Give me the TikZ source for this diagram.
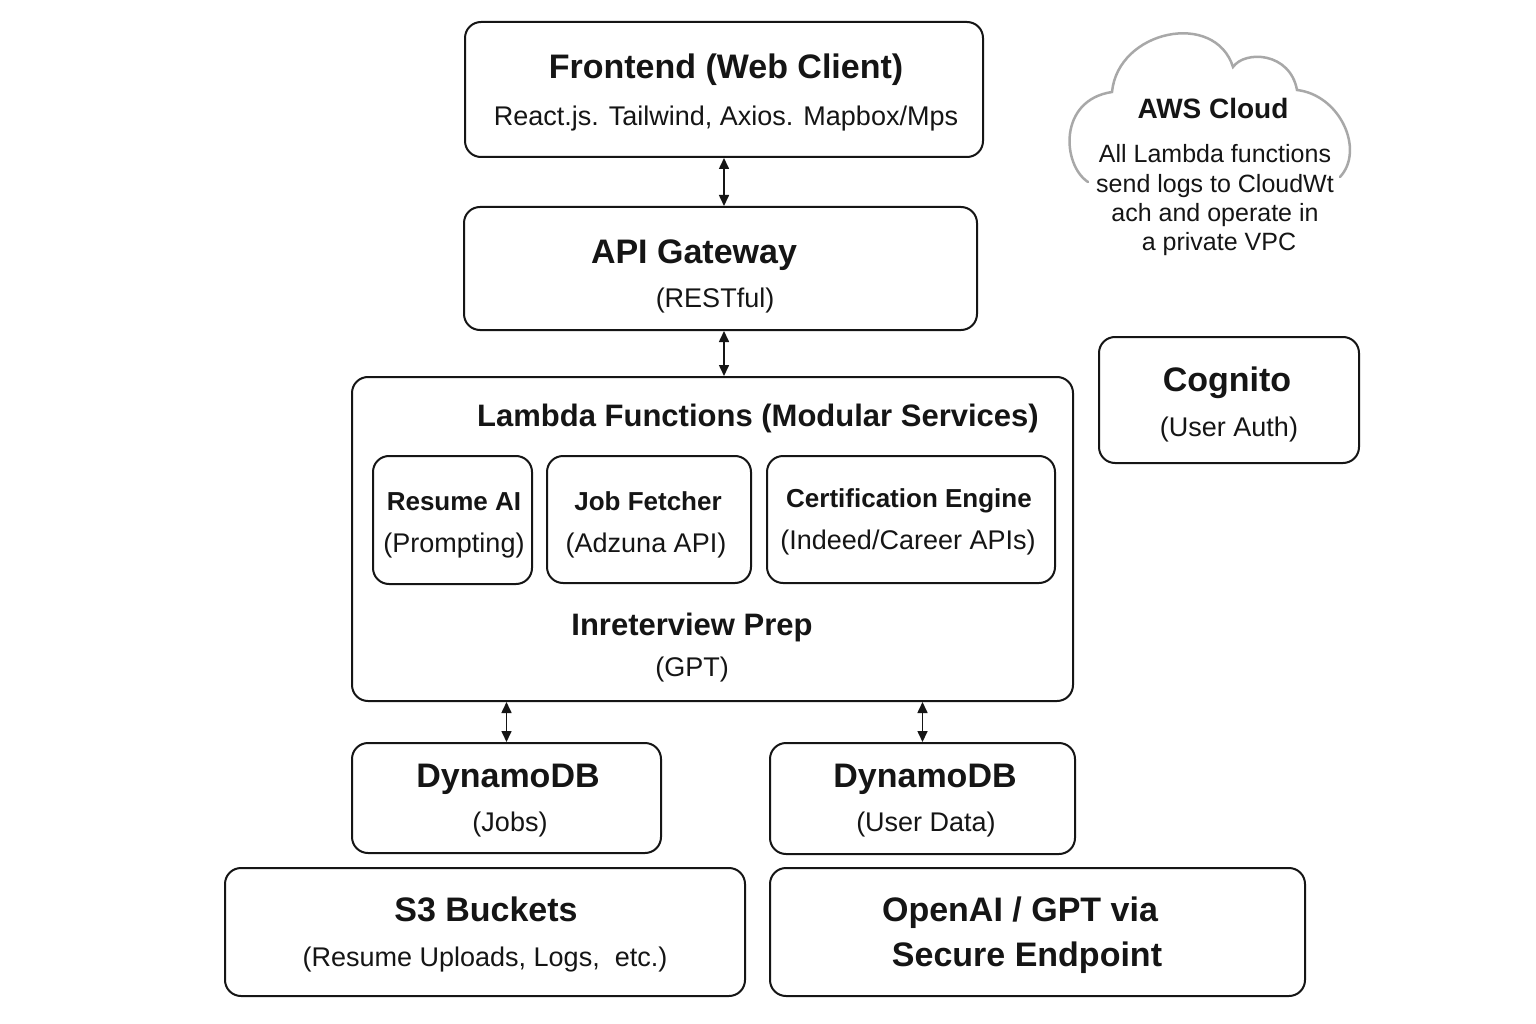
\documentclass[tikz,border=0pt]{standalone}
\usepackage{fontspec}
\setmainfont{Liberation Sans}
\usetikzlibrary{arrows.meta}
\definecolor{ink}{HTML}{151515}
\definecolor{cloudgray}{HTML}{A8A8A8}
\begin{document}
\begin{tikzpicture}[x=1pt,y=-1pt,
  box/.style={draw=ink, line width=2pt, rounded corners=16pt, inner sep=0pt},
  txt/.style={text=ink, inner sep=0pt, text height=0.75em, text depth=0.2em, yshift=-8.5pt},
  ttl/.style={txt, font=\bfseries\fontsize{34}{37}\selectfont},
  subt/.style={txt, font=\fontsize{27}{30}\selectfont},
  ittl/.style={txt, font=\bfseries\fontsize{26}{30}\selectfont},
  mttl/.style={txt, font=\bfseries\fontsize{31}{34}\selectfont},
  ctxt/.style={txt, font=\fontsize{25}{28}\selectfont},
  ctitle/.style={txt, font=\bfseries\fontsize{28}{30}\selectfont},
  arr/.style={{Triangle[length=11pt,width=10pt]}-{Triangle[length=11pt,width=10pt]}, line width=1.6pt, draw=ink}
]
\fill[white] (0,0) rectangle (1536,1024);
\useasboundingbox (0,0) rectangle (1536,1024);

% main boxes
\node[box, minimum width=518pt, minimum height=135pt] (fe) at (724,89.5) {};
\node[box, minimum width=513pt, minimum height=123pt] (api) at (720.5,268.5) {};
\node[box, minimum width=721pt, minimum height=324pt] (lam) at (712.5,539) {};
\node[box, minimum width=159pt, minimum height=128pt] (ra) at (452.5,520) {};
\node[box, minimum width=204pt, minimum height=127pt] (jf) at (649,519.5) {};
\node[box, minimum width=288pt, minimum height=127pt] (ce) at (911,519.5) {};
\node[box, minimum width=260pt, minimum height=126pt] (cog) at (1229,400) {};
\node[box, minimum width=309pt, minimum height=110pt] (d1) at (506.5,798) {};
\node[box, minimum width=305pt, minimum height=111pt] (d2) at (922.5,798.5) {};
\node[box, minimum width=520pt, minimum height=128pt] (s3) at (485,932) {};
\node[box, minimum width=535pt, minimum height=128pt] (oa) at (1037.5,932) {};

% texts
\node[ttl] (fet) at (726,67) {Frontend (Web Client)};
\node[subt] (fes) at (726,114) {React.js. Tailwind, Axios. Mapbox/Mps};
\node[ttl] (apit) at (694,252) {API Gateway};
\node[subt] (apis) at (715,296) {(RESTful)};
\node[mttl] (lamt) at (758,415) {Lambda Functions (Modular Services)};
\node[ittl] (rat) at (454,499) {Resume AI};
\node[subt] (ras) at (454,541) {(Prompting)};
\node[ittl] (jft) at (648,499) {Job Fetcher};
\node[subt] (jfs) at (646,541) {(Adzuna API)};
\node[ittl] (cet) at (909,496) {Certification Engine};
\node[subt] (ces) at (908,538) {(Indeed/Career APIs)};
\node[mttl] (ipt) at (692,624) {Inreterview Prep};
\node[subt] (ips) at (692,665) {(GPT)};
\node[ttl] (cogt) at (1227,380) {Cognito};
\node[subt] (cogs) at (1229,425) {(User Auth)};
\node[ttl] (d1t) at (508,776) {DynamoDB};
\node[subt] (d1s) at (510,820) {(Jobs)};
\node[ttl] (d2t) at (925,776) {DynamoDB};
\node[subt] (d2s) at (926,820) {(User Data)};
\node[ttl] (s3t) at (486,910) {S3 Buckets};
\node[subt] (s3s) at (485,955) {(Resume Uploads, Logs,\ \ etc.)};
\node[ttl] (oat) at (1020,910) {OpenAI / GPT via};
\node[ttl] (oas) at (1027,955) {Secure Endpoint};

% cloud
\draw[cloudgray, line width=2.5pt, line cap=round]
  (1088,182) .. controls (1062,165) and (1058,100) .. (1112,92)
  .. controls (1118,30) and (1215,10) .. (1233,67)
  .. controls (1245,50) and (1290,52) .. (1297,90)
  .. controls (1340,95) and (1365,150) .. (1340,177);
\node[ctitle] (awst) at (1213,107) {AWS Cloud};
\node[ctxt] (aws1) at (1215,151) {All Lambda functions};
\node[ctxt] (aws2) at (1215,181) {send logs to CloudWt};
\node[ctxt] (aws3) at (1215,210) {ach and operate in};
\node[ctxt] (aws4) at (1219,239) {a private VPC};

% connectors
\draw[arr] (fe.south) -- (fe.south |- api.north);
\draw[arr] (fe.south |- api.south) -- (fe.south |- lam.north);
\draw[arr] (d1.north |- lam.south) -- (d1.north);
\draw[arr] (d2.north |- lam.south) -- (d2.north);
\end{tikzpicture}
\end{document}
